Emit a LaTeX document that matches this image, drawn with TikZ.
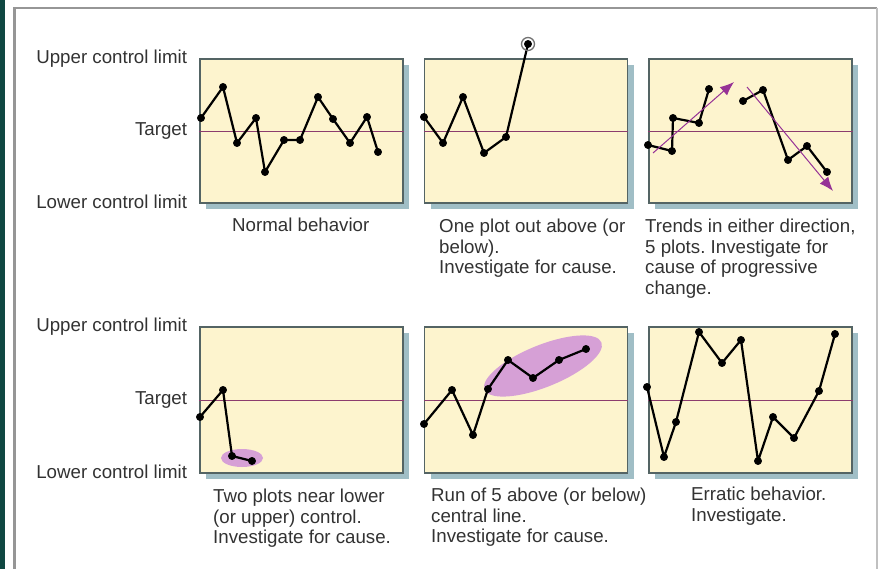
\documentclass[tikz,border=0pt]{standalone}
\usepackage{fontspec}
\setmainfont{Liberation Sans}
\usetikzlibrary{positioning,arrows.meta,shadows}
\definecolor{PanelFill}{RGB}{253,244,206}
\definecolor{PanelEdge}{RGB}{84,100,100}
\definecolor{ShadowBlue}{RGB}{160,190,198}
\definecolor{TargetLine}{RGB}{140,60,110}
\definecolor{TrendPurple}{RGB}{150,50,150}
\definecolor{BlobPink}{RGB}{214,160,214}
\definecolor{FrameGray}{RGB}{150,150,150}
\definecolor{EdgeTeal}{RGB}{16,72,66}
\definecolor{TextGray}{RGB}{50,50,50}
\frenchspacing

\begin{document}
\begin{tikzpicture}[x=1pt, y=-1pt,
  txt/.style={font=\fontsize{18.7}{20.5}\selectfont, text=TextGray, inner sep=0pt},
  panel/.style={draw=PanelEdge, line width=1.6pt, fill=PanelFill,
                minimum width=203pt, minimum height=144pt, inner sep=0pt,
                drop shadow={shadow xshift=6pt, shadow yshift=-6pt,
                             fill=ShadowBlue, opacity=1}},
  ylabel/.style={txt, anchor=east},
  caption/.style={txt, anchor=north west, align=left},
  targetline/.style={TargetLine, line width=0.8pt},
  trace/.style={line width=2.2pt, line join=round, mark=*, mark size=2.8pt},
  trend/.style={TrendPurple, line width=1pt, -{Latex[length=14pt, width=11pt]}},
  blob/.style={fill=BlobPink}]
  \useasboundingbox (0,0) rectangle (880,569);
  % page frame
  \fill[EdgeTeal] (0,0) rectangle (4.5,569);
  \draw[FrameGray, line width=2.5pt] (14.5,569) -- (14.5,8) -- (877,8);
  \draw[FrameGray!60, line width=1.5pt] (877,8) -- (877,569);

  % top row
  \node[panel] (p1) at (301.5,131) {};
  \node[panel, right=20pt of p1] (p2) {};
  \node[panel, right=20pt of p2] (p3) {};
  % bottom row
  \node[panel, minimum height=146pt] (p4) at (301.5,400) {};
  \node[panel, minimum height=146pt, right=20pt of p4] (p5) {};
  \node[panel, minimum height=146pt, right=20pt of p5] (p6) {};

  \foreach \p in {p1,p2,p3,p4,p5,p6}
    \draw[targetline] (\p.west) -- (\p.east);

  \node[ylabel, left=12pt of p1.north west] (ucl1) {Upper control limit};
  \node[ylabel, left=12pt of p1.west] (tgt1) {Target};
  \node[ylabel, left=12pt of p1.south west, yshift=2pt] (lcl1) {Lower control limit};
  \node[ylabel, left=12pt of p4.north west] (ucl2) {Upper control limit};
  \node[ylabel, left=12pt of p4.west] (tgt2) {Target};
  \node[ylabel, left=12pt of p4.south west, yshift=2pt] (lcl2) {Lower control limit};

  % highlighted plots
  \fill[blob] (242,458) ellipse [x radius=21, y radius=9];
  \fill[blob, rotate around={22:(543,366)}] (543,366) ellipse [x radius=63, y radius=21];

  % normal behavior
  \draw[trace] plot coordinates {(201,118) (223,87) (237,143) (256,118) (265,172)
    (284,140) (300,140) (318,97) (333,119) (350,143) (367,117) (378,152)};
  % one plot out
  \draw[trace] plot coordinates {(424,117) (443,143) (463,97) (484,153) (506,137) (528,44)};
  \draw[black!55, line width=1.3pt] (528,44) circle (6.5);
  % trends
  \draw[trace] plot coordinates {(648,145) (672,151) (673,118) (699,123) (709,89)};
  \draw[trace] plot coordinates {(743,101) (763,90) (788,160) (807,146) (827,172)};
  \draw[trend] (653,153) -- (734,82);
  \draw[trend] (747,87) -- (833,191);
  % near limit
  \draw[trace] plot coordinates {(200,417) (223,390) (232,456) (252,461)};
  % run of five
  \draw[trace] plot coordinates {(424,424) (452,390) (473,435) (488,389) (508,360)
    (533,378) (559,360) (586,349)};
  % erratic
  \draw[trace] plot coordinates {(647,387) (664,457) (676,422) (699,332) (722,363)
    (741,340) (758,461) (773,417) (794,438) (819,391) (835,334)};

  \node[caption] (cap1) at (232,218) {Normal behavior};
  \node[caption] (cap2) at (439,219) {One plot out above (or\\below).\\Investigate for cause.};
  \node[caption] (cap3) at (645,219) {Trends in either direction,\\5 plots. Investigate for\\cause of progressive\\change.};
  \node[caption] (cap4) at (213,489) {Two plots near lower\\(or upper) control.\\Investigate for cause.};
  \node[caption] (cap5) at (431,488) {Run of 5 above (or below)\\central line.\\Investigate for cause.};
  \node[caption] (cap6) at (691,487) {Erratic behavior.\\Investigate.};
\end{tikzpicture}
\end{document}
